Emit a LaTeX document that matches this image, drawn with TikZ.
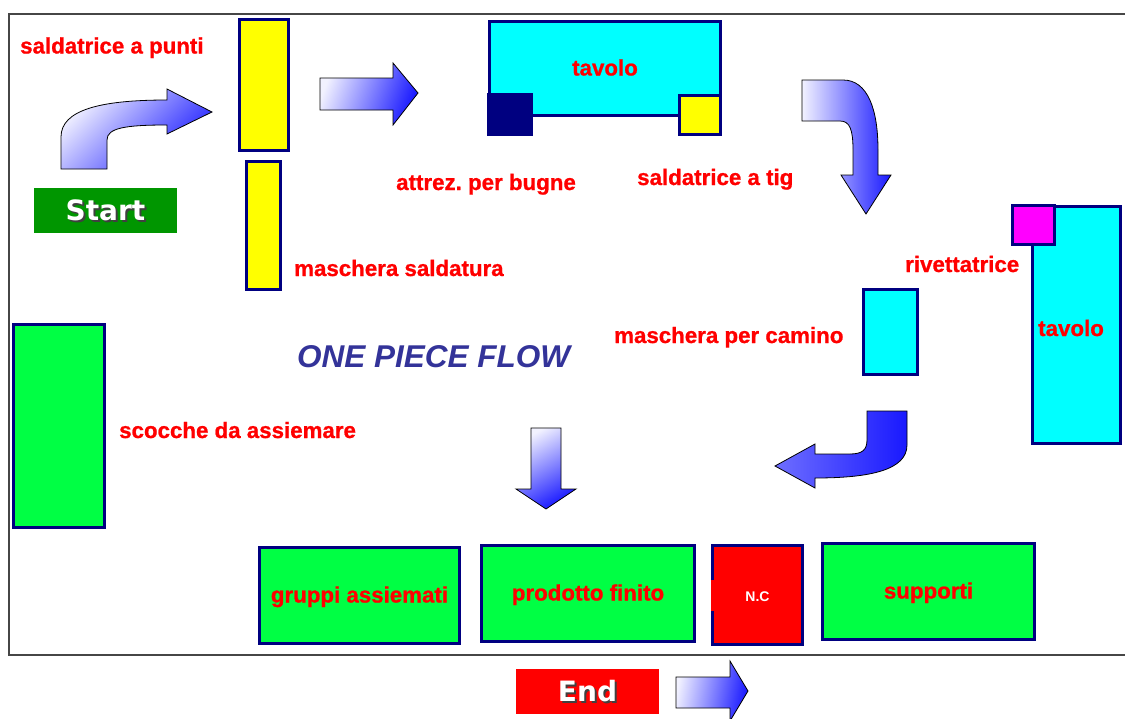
\documentclass[tikz,border=0pt]{standalone}
\usepackage{fontspec}
\newfontfamily\arialfam{Liberation Sans}[BoldFeatures={FakeBold=0.9}]
\newfontfamily\plainarial{Liberation Sans}
\newfontfamily\dejafam{DejaVu Sans}
\newcommand{\labfont}{\arialfam\bfseries\fontsize{22.3}{23}\selectfont}
\newcommand{\bigfont}{\dejafam\bfseries\fontsize{28}{28}\selectfont}
\definecolor{navy}{RGB}{0,0,128}
\definecolor{boxgreen}{RGB}{0,255,68}
\definecolor{boxcyan}{RGB}{0,255,255}
\definecolor{boxyellow}{RGB}{255,255,0}
\definecolor{boxmagenta}{RGB}{255,0,255}
\definecolor{boxred}{RGB}{255,0,0}
\definecolor{startgreen}{RGB}{0,150,0}
\definecolor{flowblue}{RGB}{51,51,153}
\definecolor{lightb}{RGB}{242,242,255}
\definecolor{midb}{RGB}{110,110,255}
\definecolor{darkb}{RGB}{25,25,255}
\definecolor{framegray}{RGB}{70,70,70}
\tikzset{
  box/.style={draw=navy, line width=3pt, inner sep=0pt, text height=18pt, text depth=4pt, font=\labfont, text=boxred},
  lab/.style={font=\labfont, text=boxred, inner sep=0pt, anchor=base west},
  barrow/.style={draw=black, line width=0.8pt},
  tagbox/.style={inner sep=0pt, font=\bigfont, text=white},
}
\begin{document}
\frenchspacing
\begin{tikzpicture}[x=1pt,y=-1pt]
\useasboundingbox (0,0) rectangle (1125,718);
% frame
\draw[line width=2pt, framegray] (1126,14) -- (9,14) -- (9,655) -- (1126,655);

% equipment
\node[box, fill=boxyellow, minimum width=49, minimum height=131] (ys1) at (264,85) {};
\node[box, fill=boxyellow, minimum width=34, minimum height=128] (ys2) at (263.5,225.5) {};
\node[box, fill=boxcyan, minimum width=231, minimum height=94] (tav1) at (605,68.5) {tavolo};
\node[fill=navy, inner sep=0pt, minimum width=46, minimum height=43] (bugne) at (510,114.5) {};
\node[box, fill=boxyellow, minimum width=41, minimum height=39] (tig) at (700,115) {};
\node[box, fill=boxcyan, minimum width=88, minimum height=237] (tav2) at (1076.5,325) {};
\node[lab] (tav2lab) at (1038,336) {tavolo};
\node[box, fill=boxmagenta, minimum width=42, minimum height=39] (riv) at (1033.5,225) {};
\node[box, fill=boxcyan, minimum width=54, minimum height=85] (cam) at (890.5,332) {};
\node[box, fill=boxgreen, minimum width=91, minimum height=203] (scoc) at (59,426) {};
\node[box, fill=boxgreen, minimum width=200, minimum height=96] (grup) at (359.5,595.5) {gruppi assiemati};
\node[box, fill=boxgreen, minimum width=213, minimum height=96] (prod) at (588,593.5) {prodotto finito};
\node[box, fill=boxred, minimum width=90, minimum height=99] (nc) at (757.5,595) {};
\fill[boxred] (711,580) rectangle (714.2,611);
\node[inner sep=0pt, text=white, font=\plainarial\bfseries\fontsize{14}{14}\selectfont] (nclab) at (757.5,597) {N.C};
\node[box, fill=boxgreen, minimum width=212, minimum height=96] (supp) at (928.5,591.5) {supporti};

% labels
\node[lab] (l1) at (20,53.5) {saldatrice a punti};
\node[lab] (l2) at (396,190) {attrez. per bugne};
\node[lab] (l3) at (637,185) {saldatrice a tig};
\node[lab] (l4) at (294,276) {maschera saldatura};
\node[lab] (l5) at (905,272) {rivettatrice};
\node[lab] (l6) at (614,343) {maschera per camino};
\node[lab] (l7) at (119,438) {scocche da assiemare};
\node[inner sep=0pt, anchor=base west, text=flowblue, font=\arialfam\bfseries\itshape\fontsize{31.5}{32}\selectfont] (opf) at (297,367) {ONE PIECE FLOW};

% start / end
\node[fill=startgreen, inner sep=0pt, minimum width=143, minimum height=45] (startbox) at (105.5,210.5) {};
\node[tagbox, text=black!75] (startsh) at (107.5,212) {Start};
\node[tagbox] (start) at (105.5,210.5) {Start};
\node[fill=boxred, inner sep=0pt, minimum width=143, minimum height=45] (endbox) at (587.5,691.5) {};
\node[tagbox, text=black!75] (endsh) at (589.5,693) {End};
\node[tagbox] (end) at (587.5,691.5) {End};

% block arrows
\path[barrow, top color=lightb, bottom color=darkb, shading angle=45]
  (61,169) -- (61,137) .. controls (61,110) and (100,100) .. (167,100) -- (167,89) -- (212,112)
  -- (167,134) -- (167,125) .. controls (125,125) and (107,128) .. (107,140) -- (107,169) -- cycle;
\path[barrow, top color=lightb, bottom color=darkb, shading angle=70]
  (320,78) -- (393,78) -- (393,63) -- (418,93) -- (393,125) -- (393,110) -- (320,110) -- cycle;
\path[barrow, top color=lightb, bottom color=darkb, shading angle=90]
  (802,80) -- (843,80) .. controls (868,80) and (878,110) .. (878,150) -- (878,175) -- (891,175)
  -- (866,214) -- (841,175) -- (853,175) -- (853,150) .. controls (853,130) and (850,121) .. (840,121)
  -- (802,121) -- cycle;
\path[barrow, top color=lightb, bottom color=darkb, shading angle=30]
  (531,428) -- (561,428) -- (561,489) -- (576,489) -- (546,509) -- (516,489) -- (531,489) -- cycle;
\path[barrow, left color=midb, middle color=blue!30, right color=darkb]
  (867,411) -- (907,411) -- (907,445) .. controls (907,470) and (870,478) .. (815,478) -- (815,488)
  -- (775,466) -- (815,444) -- (815,454) -- (850,454) .. controls (862,454) and (867,450) .. (867,440) -- cycle;
\path[barrow, top color=lightb, bottom color=darkb, shading angle=80]
  (676,677) -- (730,677) -- (730,661) -- (748,691) -- (730,721) -- (730,708) -- (676,708) -- cycle;
\end{tikzpicture}
\end{document}
